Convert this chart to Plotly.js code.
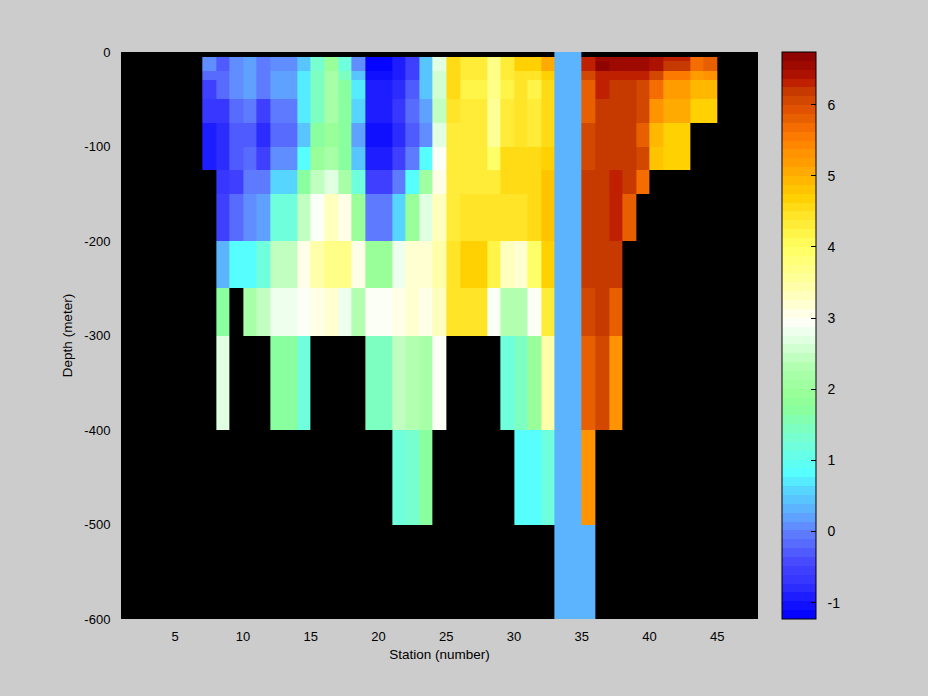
<!DOCTYPE html>
<html>
<head>
<meta charset="utf-8">
<script src="https://cdn.plot.ly/plotly-3.0.1.min.js"></script>
<style>html,body{margin:0;padding:0;background:#cccccc;}#plot{width:928px;height:696px;}</style>
</head>
<body>
<div id="plot"></div>
<script>
// Stations 7..44 (cell i spans station i .. i+1)
const stations = [7,8,9,10,11,12,13,14,15,16,17,18,19,20,21,22,23,24,25,26,27,28,29,30,31,32,33,34,35,36,37,38,39,40,41,42,43,44];
// Depth cell edges (m, negative downward)
const depthEdges = [0,-5,-10,-20,-30,-50,-75,-100,-125,-150,-200,-250,-300,-400,-500,-600];
const n = null;
// one array per depth layer, values for stations 7..44
const d0_5 =    [n,n,n,n,n,n,n,n,n,n,n,n,n,n,n,n,n,n,n,n,n,n,n,n,n,n,0.32,0.32,n,n,n,n,n,n,n,n,n,n];
const d5_10 =   [0.03,-0.3,0.08,0.18,-0.08,0.08,0.08,0.48,1.38,1.95,1.25,0.03,-1.2,-1.2,-0.95,-0.58,0.48,2.7,4.5,4.35,4.35,3.75,4.35,4.65,4.65,5.0,0.32,0.32,6.35,6.55,6.6,6.6,6.6,6.4,6.3,6.3,5.65,5.8];
const d10_20 =  [0.03,-0.3,0.08,0.18,-0.08,0.08,0.08,0.5,1.38,2.0,1.25,0.03,-1.2,-1.2,-0.95,-0.58,0.48,2.7,4.5,4.35,4.35,3.75,4.35,4.65,4.65,5.0,0.32,0.32,6.25,6.65,6.55,6.55,6.55,6.4,6.15,6.15,5.65,5.8];
const d20_30 =  [-0.12,-0.15,0.08,0.18,-0.08,0.18,0.18,0.7,1.5,2.2,1.42,0.42,-1.05,-1.05,-0.95,-0.5,0.48,2.6,4.5,4.3,4.3,3.75,4.35,4.47,4.4,4.72,0.32,0.32,6.0,6.35,6.25,6.25,6.25,6.0,5.5,5.5,5.15,5.35];
const d30_50 =  [-0.5,-0.2,0.08,0.18,-0.08,0.18,0.18,0.7,1.5,2.2,1.7,0.73,-0.95,-0.95,-0.78,-0.28,0.42,2.57,4.5,4.18,4.18,3.75,4.18,4.38,4.18,4.58,0.32,0.32,5.8,6.25,6.15,6.15,6.0,5.65,5.15,5.15,4.92,4.92];
const d50_75 =  [-0.73,-0.73,-0.18,0.0,-0.5,-0.08,-0.08,0.7,1.5,2.2,1.7,0.58,-0.95,-0.95,-0.63,-0.12,0.26,2.42,4.42,4.3,4.3,3.62,4.28,4.38,4.25,4.58,0.32,0.32,5.8,6.15,6.15,6.15,6.0,5.35,5.05,5.05,4.65,4.65];
const d75_100 = [-0.9,-0.82,-0.25,-0.25,-0.82,-0.18,-0.18,0.42,1.7,1.95,1.7,0.24,-1.1,-1.1,-0.78,-0.28,0.12,2.68,4.35,4.35,4.35,3.62,4.28,4.42,4.28,4.58,0.32,0.32,6.0,6.15,6.15,6.15,5.8,4.92,4.72,4.72,n,n];
const d100_125 =[-0.9,-0.82,-0.35,-0.18,-0.5,0.08,0.08,0.85,1.95,2.2,1.7,0.45,-0.95,-0.95,-0.58,-0.05,0.85,2.92,4.35,4.35,4.35,3.95,4.5,4.6,4.5,4.65,0.32,0.32,6.0,6.15,6.15,6.15,6.0,4.85,4.72,4.72,n,n];
const d125_150 =[n,-0.73,-0.5,0.0,0.0,0.58,0.58,1.7,2.5,2.68,2.2,1.25,-0.58,-0.58,-0.05,0.85,2.1,3.1,4.35,4.35,4.35,4.35,4.5,4.5,4.5,4.85,0.32,0.32,6.15,6.15,6.25,6.15,5.65,n,n,n,n,n];
const d150_200 =[n,-0.58,-0.22,0.08,0.18,1.25,1.25,2.45,2.92,3.35,3.05,1.95,0.0,0.0,0.58,2.0,2.68,3.35,4.35,4.47,4.47,4.38,4.38,4.38,4.5,4.85,0.32,0.32,6.15,6.15,6.25,5.8,n,n,n,n,n,n];
const d200_250 =[n,0.3,0.85,0.85,1.25,2.42,2.42,3.12,3.45,3.75,3.75,3.1,1.95,1.95,2.84,3.15,3.2,3.5,4.47,4.68,4.68,4.18,3.27,3.15,3.88,4.72,0.32,0.32,6.15,6.15,6.15,n,n,n,n,n,n,n];
const d250_300 =[n,1.7,n,2.2,2.5,2.84,2.84,2.92,3.05,3.2,2.84,2.35,2.92,2.92,3.1,3.17,3.12,3.35,4.4,4.42,4.42,2.92,2.35,2.35,2.92,4.35,0.32,0.32,6.0,6.15,5.8,n,n,n,n,n,n,n];
const d300_400 =[n,2.68,n,n,n,1.7,1.7,1.2,n,n,n,n,1.42,1.42,2.42,2.3,2.25,2.92,n,n,n,n,1.2,1.42,1.95,3.4,0.32,0.32,5.8,6.0,5.35,n,n,n,n,n,n,n];
const d400_500 =[n,n,n,n,n,n,n,n,n,n,n,n,n,n,1.2,1.38,1.7,n,n,n,n,n,n,0.85,0.85,1.25,0.32,0.32,5.35,n,n,n,n,n,n,n,n,n];
const d500_600 =[n,n,n,n,n,n,n,n,n,n,n,n,n,n,n,n,n,n,n,n,n,n,n,n,n,n,0.32,0.32,0.32,n,n,n,n,n,n,n,n,n];

const xTicks = [5,10,15,20,25,30,35,40,45];
const yTicks = [0,-100,-200,-300,-400,-500,-600];
const yTickLabels = ['0','-100','-200','-300','-400','-500','-600'];
const cTicks = [-1,0,1,2,3,4,5,6];
const cTickLabels = ['-1','0','1','2','3','4','5','6'];
const zMin = -1.23, zMax = 6.74;

// colormap anchors (value, colour)
const cmapVals = [-1.23,-0.99,-0.73,-0.47,-0.21,0.0,0.15,0.35,0.6,0.8,1.0,1.2,1.5,1.75,1.95,2.25,2.5,2.75,2.97,3.25,3.5,3.75,4.0,4.25,4.5,4.7,4.85,5.0,5.15,5.35,5.5,5.65,5.8,5.95,6.15,6.3,6.45,6.74];
const cmapCols = ['#0000FF','#1515FF','#3333FF','#4444FF','#5566FF','#6080FF','#6099FF','#5CB8FF','#55D8FF','#55FFFF','#60FFEE','#70FFDD','#80FFBB','#8CFF99','#99FF99','#AAFFAA','#C8FFC8','#E8FFE8','#FFFFF8','#FFFFC8','#FFFFA0','#FFFF80','#FFFF60','#FFF040','#FFE020','#FFD000','#FFC000','#FFB000','#FFA000','#FF9000','#FF8000','#F87000','#E86000','#E05000','#C84000','#C02000','#AA1000','#880000'];

function hex2rgb(h){return [parseInt(h.slice(1,3),16),parseInt(h.slice(3,5),16),parseInt(h.slice(5,7),16)];}
function colAt(v){
  for(let i=0;i<cmapVals.length-1;i++){
    if(v<=cmapVals[i+1]){
      const t=(v-cmapVals[i])/(cmapVals[i+1]-cmapVals[i]);
      const a=hex2rgb(cmapCols[i]), b=hex2rgb(cmapCols[i+1]);
      return 'rgb('+a.map((c,k)=>Math.round(c+(b[k]-c)*t)).join(',')+')';
    }
  }
  return cmapCols[cmapCols.length-1];
}
const nLev = 64;
const colorscale = [];
for(let k=0;k<nLev;k++){
  const c = colAt(zMin+(k+0.5)*(zMax-zMin)/nLev);
  colorscale.push([k/nLev,c]);
  colorscale.push([(k+1)/nLev,c]);
}

const xEdges = stations.concat([stations[stations.length-1]+1]);
const z = [d0_5,d5_10,d10_20,d20_30,d30_50,d50_75,d75_100,d100_125,d125_150,d150_200,d200_250,d250_300,d300_400,d400_500,d500_600];

const font = "'Liberation Sans', Arial, Helvetica, sans-serif";
const pad = '\u00a0\u00a0';
const trace = {
  type:'heatmap', x:xEdges, y:depthEdges, z:z,
  zmin:zMin, zmax:zMax, colorscale:colorscale, zsmooth:false,
  hoverongaps:false,
  colorbar:{
    x:1.0377, xanchor:'left', xpad:0, ypad:0, y:0.5, yanchor:'middle',
    len:1, lenmode:'fraction', thickness:34, thicknessmode:'pixels',
    outlinewidth:1, outlinecolor:'black',
    tickmode:'array', tickvals:cTicks, ticktext:cTickLabels.map(t=>pad+t),
    ticks:'inside', ticklen:5, tickcolor:'black',
    tickfont:{family:font, size:14, color:'black'}
  }
};
const layout = {
  width:928, height:696,
  paper_bgcolor:'#cccccc', plot_bgcolor:'black',
  margin:{l:121, r:170, t:52, b:77, pad:0},
  font:{family:font, size:13, color:'black'},
  xaxis:{range:[1,48], tickmode:'array', tickvals:xTicks, ticks:'outside', ticklen:5, tickcolor:'rgba(0,0,0,0)',
    showgrid:false, zeroline:false, showline:false, tickfont:{family:font,size:13,color:'black'},
    title:{text:'Station (number)', font:{family:font,size:13.5,color:'black'}, standoff:6}},
  yaxis:{range:[-600,0], tickmode:'array', tickvals:yTicks, ticktext:yTickLabels, ticks:'outside', ticklen:7, tickcolor:'rgba(0,0,0,0)',
    showgrid:false, zeroline:false, showline:false, tickfont:{family:font,size:13,color:'black'},
    title:{text:'Depth (meter)', font:{family:font,size:13.5,color:'black'}, standoff:8}}
};
Plotly.newPlot('plot',[trace],layout,{displayModeBar:false, staticPlot:true});
</script>
</body>
</html>
